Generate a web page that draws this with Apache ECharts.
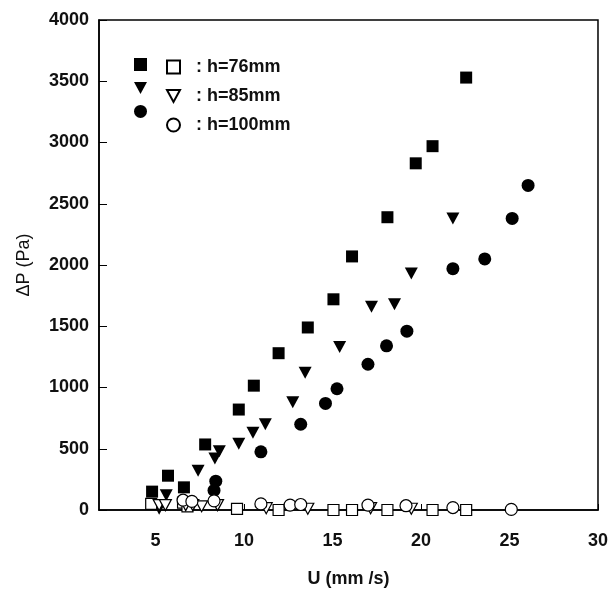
<!DOCTYPE html>
<html>
<head>
<meta charset="utf-8">
<script src="https://cdn.jsdelivr.net/npm/echarts@6/dist/echarts.min.js"></script>
<style>
  html, body { margin: 0; padding: 0; background: #fff; }
  #main { width: 611px; height: 593px; }
</style>
</head>
<body>
<div id="main"></div>
<script type="text/javascript">
    // h=76mm, filled squares
    var u76 = [4.8, 5.7, 6.6, 7.8, 9.7, 10.55, 11.95, 13.6, 15.05, 16.1, 18.1, 19.7, 20.65, 22.55];
    var dp76 = [150, 280, 185, 535, 820, 1015, 1280, 1490, 1720, 2070, 2390, 2830, 2970, 3530];
    // h=85mm, filled triangles
    var u85 = [5.2, 5.6, 7.4, 8.35, 8.6, 9.7, 10.5, 11.2, 12.75, 13.45, 15.4, 17.2, 18.5, 19.45, 21.8];
    var dp85 = [10, 120, 320, 420, 480, 540, 630, 700, 880, 1120, 1330, 1660, 1680, 1930, 2380];
    // h=100mm, filled circles
    var u100 = [8.3, 8.4, 10.95, 13.2, 14.6, 15.25, 17.0, 18.05, 19.2, 21.8, 23.6, 25.15, 26.05];
    var dp100 = [160, 235, 475, 700, 870, 990, 1190, 1340, 1460, 1970, 2050, 2380, 2650];
    // open symbols (near zero)
    var u76o = [4.75, 6.55, 6.8, 9.6, 11.95, 15.05, 16.1, 18.1, 20.65, 22.55];
    var dp76o = [50, 60, 30, 10, 0, 0, 0, 0, 0, 0];
    var u85o = [5.2, 5.55, 6.7, 7.1, 7.6, 8.5, 11.25, 13.6, 17.15, 19.45];
    var dp85o = [40, 40, 40, 40, 30, 40, 15, 10, 15, 10];
    var u100o = [6.55, 7.05, 8.3, 10.95, 12.6, 13.2, 17.0, 19.15, 21.8, 25.1];
    var dp100o = [80, 70, 75, 50, 40, 45, 40, 35, 20, 5];

    var xTicks = [5, 10, 15, 20, 25, 30];
    var legendLabels = {h76o: ': h=76mm', h85o: ': h=85mm', h100o: ': h=100mm'};

    function pairs(xs, ys) {
        var out = [];
        for (var i = 0; i < xs.length; i++) out.push([xs[i], ys[i]]);
        return out;
    }

    var triDown = 'path://M0,0L12,0L6,11Z';
    var filled = {color: '#000', opacity: 1};
    var hollow = {color: '#fff', borderColor: '#000', borderWidth: 1.2, opacity: 1};
    var font = 'Liberation Sans, Arial, sans-serif';

    var myChart = echarts.init(document.getElementById('main'));
    var option = {
        animation: false,
        backgroundColor: '#fff',
        grid: {
            left: 99, right: 11, top: 20, bottom: 83,
            show: true, borderColor: '#000', borderWidth: 1.5
        },
        legend: [{
            left: 134, top: 58, padding: 0, orient: 'vertical', selectedMode: false,
            itemWidth: 13, itemHeight: 13, itemGap: 11,
            data: ['h76', 'h85', 'h100'],
            formatter: function () { return ''; },
            textStyle: {fontSize: 18, lineHeight: 18}
        }, {
            left: 166, top: 58, padding: 0, orient: 'vertical', selectedMode: false,
            itemWidth: 13, itemHeight: 13, itemGap: 11,
            data: ['h76o', 'h85o', 'h100o'],
            formatter: function (name) { return legendLabels[name]; },
            textStyle: {fontSize: 18, lineHeight: 18, color: '#111', fontFamily: font,
                fontWeight: 'bold', padding: [0, 0, 0, 11]}
        }],
        xAxis: {
            type: 'value', min: 1.8, max: 30,
            name: 'U (mm /s)', nameLocation: 'middle', nameGap: 60,
            nameTextStyle: {fontSize: 18, fontFamily: font, fontWeight: 'bold', color: '#111'},
            axisLine: {lineStyle: {color: '#000', width: 1.5}},
            axisTick: {inside: true, length: 6, customValues: xTicks, lineStyle: {color: '#000'}},
            axisLabel: {customValues: xTicks, margin: 22, fontSize: 18, fontFamily: font,
                fontWeight: 'bold', color: '#111'},
            splitLine: {show: false}
        },
        yAxis: {
            type: 'value', min: 0, max: 4000, interval: 500,
            name: 'ΔP (Pa)', nameLocation: 'middle', nameGap: 66,
            nameTextStyle: {fontSize: 18, fontFamily: font, fontWeight: 500, color: '#111'},
            axisLine: {lineStyle: {color: '#000', width: 1.5}},
            axisTick: {inside: true, length: 8, lineStyle: {color: '#000'}},
            axisLabel: {margin: 10, fontSize: 18, fontFamily: font, fontWeight: 'bold', color: '#111',
                formatter: function (v) { return String(v); }},
            splitLine: {show: false}
        },
        series: [
            {name: 'h76', type: 'scatter', symbol: 'rect', symbolSize: 12, itemStyle: filled, data: pairs(u76, dp76)},
            {name: 'h85', type: 'scatter', symbol: triDown, symbolSize: [13, 12], itemStyle: filled, data: pairs(u85, dp85)},
            {name: 'h100', type: 'scatter', symbol: 'circle', symbolSize: 13, itemStyle: filled, data: pairs(u100, dp100)},
            {name: 'h76o', type: 'scatter', symbol: 'rect', symbolSize: 11, itemStyle: hollow, data: pairs(u76o, dp76o)},
            {name: 'h85o', type: 'scatter', symbol: triDown, symbolSize: [12, 11], itemStyle: hollow, data: pairs(u85o, dp85o)},
            {name: 'h100o', type: 'scatter', symbol: 'circle', symbolSize: 12, itemStyle: hollow, data: pairs(u100o, dp100o)}
        ]
    };
    myChart.setOption(option);
</script>
</body>
</html>
